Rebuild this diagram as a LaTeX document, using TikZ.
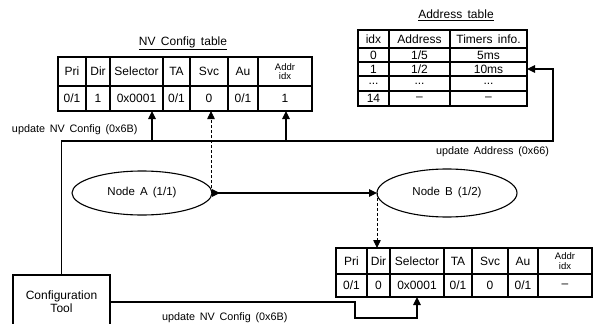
\documentclass[tikz,border=0pt]{standalone}
\usepackage{fontspec}
\setmainfont{Liberation Sans}[WordSpace=1.6]
\usetikzlibrary{arrows.meta,shapes.geometric}
\begin{document}
\begin{tikzpicture}[x=1pt,y=-1pt,
  line width=1.1pt,
  every node/.style={font=\fontsize{12}{13}\selectfont, inner sep=0pt, outer sep=0pt},
  cell/.style={draw, anchor=north west, align=center},
  small/.style={font=\fontsize{9.5}{9.5}\selectfont},
  arr/.style={-{Triangle[length=8pt,width=7.5pt]}},
  dasharr/.style={line width=0.8pt, dash pattern=on 3pt off 2pt, -{Triangle[length=8pt,width=7.5pt,line width=0.8pt]}},
  ell/.style={draw, ellipse, minimum width=140pt, font=\fontsize{11.5}{13}\selectfont},
  lbl/.style={font=\fontsize{10.8}{12}\selectfont}
]
\useasboundingbox (0,0) rectangle (598,324);

% ---------- NV Config table (top) ----------
\node (nvt) at (183,43) {\underline{NV Config table}};
\foreach \n/\x/\w/\h/\d in {1/58/28/Pri/0\slash1, 2/86/24/Dir/1, 3/110/53/Selector/0x0001, 4/163/27/TA/0\slash1, 5/190/38/Svc/0, 6/228/30/Au/0\slash1}{
  \node[cell, minimum width=\w, minimum height=29] (nv1\n) at (\x,57) {\h};
  \node[cell, minimum width=\w, minimum height=25] (nv2\n) at (\x,86) {\d};
}
\node[cell, minimum width=54, minimum height=29, small] (nv17) at (258,57) {Addr\\idx};
\node[cell, minimum width=54, minimum height=25] (nv27) at (258,86) {1};

% ---------- Address table ----------
\node (adt) at (456,15) {\underline{Address table}};
\node[cell, minimum width=31, minimum height=18] (ad11) at (358,30) {idx};
\node[cell, minimum width=61, minimum height=18] (ad12) at (389,30) {Address};
\node[cell, minimum width=77, minimum height=18] (ad13) at (450,30) {Timers info.};
\node[cell, minimum width=31, minimum height=14] (ad21) at (358,48) {0};
\node[cell, minimum width=61, minimum height=14] (ad22) at (389,48) {1/5};
\node[cell, minimum width=77, minimum height=14] (ad23) at (450,48) {5ms};
\node[cell, minimum width=31, minimum height=14] (ad31) at (358,62) {1};
\node[cell, minimum width=61, minimum height=14] (ad32) at (389,62) {1/2};
\node[cell, minimum width=77, minimum height=14] (ad33) at (450,62) {10ms};
\node[cell, minimum width=31, minimum height=15] (ad41) at (358,76) {...};
\node[cell, minimum width=61, minimum height=15] (ad42) at (389,76) {...};
\node[cell, minimum width=77, minimum height=15] (ad43) at (450,76) {...};
\node[cell, minimum width=31, minimum height=15] (ad51) at (358,91) {14};
\node[cell, minimum width=61, minimum height=15] (ad52) at (389,91) {--};
\node[cell, minimum width=77, minimum height=15] (ad53) at (450,91) {--};

% ---------- Bottom table ----------
\foreach \n/\x/\w/\h/\d in {1/336/31/Pri/0\slash1, 2/367/23/Dir/0, 3/390/54/Selector/0x0001, 4/444/28/TA/0\slash1, 5/472/36/Svc/0, 6/508/30/Au/0\slash1}{
  \node[cell, minimum width=\w, minimum height=26] (bt1\n) at (\x,248) {\h};
  \node[cell, minimum width=\w, minimum height=23] (bt2\n) at (\x,274) {\d};
}
\node[cell, minimum width=54, minimum height=26, small] (bt17) at (538,248) {Addr\\idx};
\node[cell, minimum width=54, minimum height=23] (bt27) at (538,274) {--};

% ---------- Nodes ----------
\node[ell, minimum height=44] (A) at (142,193) {Node A (1/1)};
\node[ell, minimum height=48] (B) at (447,193) {Node B (1/2)};
\node[draw, anchor=north west, minimum width=97, minimum height=54, align=center] (tool) at (13,275) {Configuration\\Tool};

% ---------- Connectors ----------
\coordinate (c2) at (553,141);
\coordinate (j1) at (152,141);
\coordinate (j2) at (286,141);
\draw[arr] (tool.north) |- (c2) |- (ad33.east);
\draw[arr] (j1) -- (j1 |- nv23.south);
\draw[arr] (j2) -- (j2 |- nv27.south);
\draw[dasharr] ([xshift=-1pt]A.east) -- ([xshift=-1pt]A.east |- nv25.south);
\draw[{Triangle[length=8pt,width=7.5pt,reversed]}-{Triangle[length=8pt,width=7.5pt]}] (A.east) -- (B.west);
\draw[dasharr] (B.west) -- (B.west |- bt12.north);
\coordinate (k1) at (355,318);
\coordinate (k2) at (417,318);
\draw[arr] (tool.east) -| (k1) -- (k2) -- (k2 |- bt23.south);

% ---------- Labels ----------
\node[lbl, anchor=west] (l1) at (12,130) {update NV Config (0x6B)};
\node[lbl, anchor=east] (l2) at (549,152) {update Address (0x66)};
\node[lbl, anchor=west] (l3) at (162,318) {update NV Config (0x6B)};
\end{tikzpicture}
\end{document}
